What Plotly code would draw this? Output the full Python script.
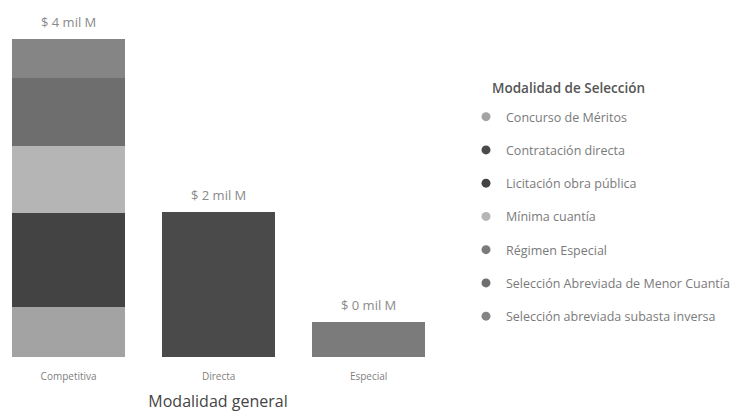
import plotly.graph_objects as go

# Valores en miles de millones (mil M)
categorias = ["Competitiva", "Directa", "Especial"]
series = [
    "Concurso de Méritos",
    "Contratación directa",
    "Licitación obra pública",
    "Mínima cuantía",
    "Régimen Especial",
    "Selección Abreviada de Menor Cuantía",
    "Selección abreviada subasta inversa",
]
valores = {
    "Concurso de Méritos": [0.64, 0, 0],
    "Contratación directa": [0, 1.86, 0],
    "Licitación obra pública": [1.21, 0, 0],
    "Mínima cuantía": [0.86, 0, 0],
    "Régimen Especial": [0, 0, 0.45],
    "Selección Abreviada de Menor Cuantía": [0.88, 0, 0],
    "Selección abreviada subasta inversa": [0.50, 0, 0],
}
colores = {
    "Concurso de Méritos": "#a3a3a3",
    "Contratación directa": "#4a4a4a",
    "Licitación obra pública": "#434343",
    "Mínima cuantía": "#b5b5b5",
    "Régimen Especial": "#7b7b7b",
    "Selección Abreviada de Menor Cuantía": "#6e6e6e",
    "Selección abreviada subasta inversa": "#858585",
}

totales = [sum(valores[s][i] for s in series) for i in range(len(categorias))]
etiquetas = ["$ %.0f mil M" % t for t in totales]

fuente = "Open Sans"
alto_plot = 349  # px de área de trazado
fig = go.Figure()

for s in series:
    fig.add_trace(go.Bar(
        x=categorias, y=valores[s], name=s,
        marker=dict(color=colores[s], line=dict(width=0)),
        width=0.753, showlegend=False, hoverinfo="skip",
    ))

# leyenda con círculos
for i, s in enumerate(series):
    fig.add_trace(go.Scatter(
        x=[None], y=[None], mode="markers", name=s,
        marker=dict(color=colores[s], size=9, symbol="circle"),
        legendgroup=str(i), showlegend=True,
    ))

# totales sobre cada barra
for c, t, e in zip(categorias, totales, etiquetas):
    fig.add_annotation(x=c, y=t, text=e, showarrow=False,
                       yanchor="bottom", yshift=6,
                       font=dict(family=fuente, size=13, color="#8a8a8a"))

# título de la leyenda
fig.add_annotation(text="Modalidad de Selección", xref="paper", yref="paper",
                   x=482 / 751, y=1 - 80 / alto_plot, xanchor="left", yanchor="middle",
                   showarrow=False,
                   font=dict(family=fuente, size=13.5, color="#555555", weight=600))

fig.update_layout(
    width=751, height=416,
    barmode="stack",
    paper_bgcolor="white", plot_bgcolor="white",
    margin=dict(l=0, r=0, t=0, b=416 - alto_plot),
    font=dict(family=fuente, color="#777777"),
    xaxis=dict(
        domain=[0, 420 / 751], range=[-0.404, 2.396],
        automargin=False,
        showgrid=False, zeroline=False, showline=False, ticks="",
        tickfont=dict(family=fuente, size=10, color="#808080"),
        ticklabelstandoff=12,
        title=dict(text="Modalidad general", standoff=13,
                   font=dict(family=fuente, size=16, color="#444444")),
    ),
    yaxis=dict(range=[0, 4.489], visible=False),
    legend=dict(
        x=458 / 751, y=1 - 94 / alto_plot, xanchor="left", yanchor="top",
        traceorder="grouped", tracegroupgap=14,
        itemwidth=30,
        font=dict(family=fuente, size=12.5, color="#7a7a7a"),
    ),
)

fig.write_html("out.html")
